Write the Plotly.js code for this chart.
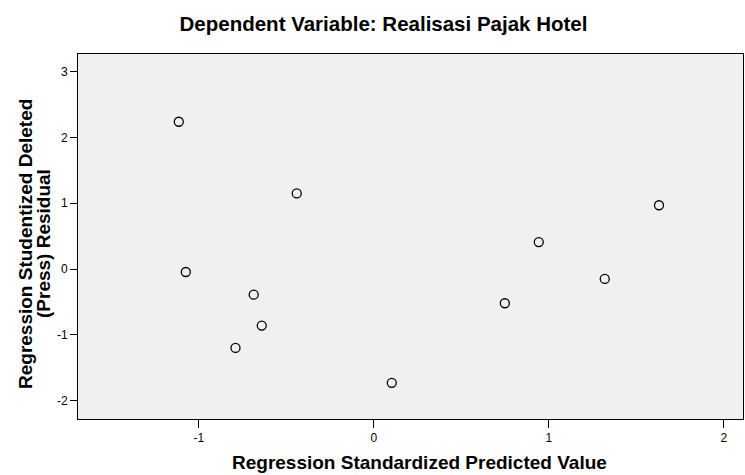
<!DOCTYPE html>
<html>
<head>
<meta charset="utf-8">
<script src="https://cdn.plot.ly/plotly-3.0.1.min.js"></script>
<style>html,body{margin:0;padding:0;background:#fff;}#chart{width:745px;height:475px;}</style>
</head>
<body>
<div id="chart"></div>
<script>
var predicted = [-1.114, -0.44, -1.074, -0.686, -0.64, -0.79, 0.103, 0.749, 0.943, 1.32, 1.63];
var residual = [2.24, 1.15, -0.045, -0.39, -0.86, -1.2, -1.73, -0.52, 0.41, -0.15, 0.97];
var xTicks = [-1, 0, 1, 2];
var yTicks = [-2, -1, 0, 1, 2, 3];
var titleText = 'Dependent Variable: Realisasi Pajak Hotel';
var xTitle = 'Regression Standardized Predicted Value';
var yTitleLines = ['Regression Studentized Deleted', '(Press) Residual'];

var trace = {
  x: predicted, y: residual, type: 'scatter', mode: 'markers',
  marker: {symbol: 'circle', size: 9, color: '#f0f0f0', line: {color: '#000', width: 1.3}},
  hoverinfo: 'x+y'
};
var layout = {
  width: 745, height: 475,
  margin: {l: 78, r: 2, t: 54, b: 56},
  paper_bgcolor: '#fff', plot_bgcolor: '#f0f0f0',
  showlegend: false,
  font: {family: 'Liberation Sans, Arial, sans-serif', color: '#000'},
  title: {text: '<b>' + titleText + '</b>', x: 383.5 / 745, xanchor: 'center', y: 1 - 23.5 / 475, yanchor: 'middle', font: {size: 20.5, color: '#000'}},
  xaxis: {
    range: [-1.69, 2.11], tickvals: xTicks, ticktext: xTicks.map(String),
    showgrid: false, zeroline: false, showline: true, linecolor: '#000', linewidth: 1, mirror: true,
    ticks: 'outside', ticklen: 8, tickcolor: '#000', tickfont: {size: 12, color: '#000'}
  },
  yaxis: {
    range: [-2.28, 3.27], tickvals: yTicks, ticktext: yTicks.map(String),
    showgrid: false, zeroline: false, showline: true, linecolor: '#000', linewidth: 1, mirror: true,
    ticks: 'outside', ticklen: 7, tickcolor: '#000', tickfont: {size: 12, color: '#000'}
  },
  annotations: [
    {text: '<b>' + xTitle + '</b>', xref: 'paper', yref: 'paper', x: (419.5 - 78) / 665, y: (419 - 475) / 365,
     xanchor: 'center', yanchor: 'bottom', showarrow: false, font: {size: 19, color: '#000'}},
    {text: '<b>' + yTitleLines[0] + '</b>', xref: 'paper', yref: 'paper', x: 0, xshift: -53, y: (419 - 244) / 365,
     xanchor: 'center', yanchor: 'middle', textangle: -90, showarrow: false, font: {size: 19, color: '#000'}},
    {text: '<b>' + yTitleLines[1] + '</b>', xref: 'paper', yref: 'paper', x: 0, xshift: -35, y: (419 - 244) / 365,
     xanchor: 'center', yanchor: 'middle', textangle: -90, showarrow: false, font: {size: 19, color: '#000'}}
  ]
};
Plotly.newPlot('chart', [trace], layout, {displayModeBar: false, staticPlot: true});
</script>
</body>
</html>
